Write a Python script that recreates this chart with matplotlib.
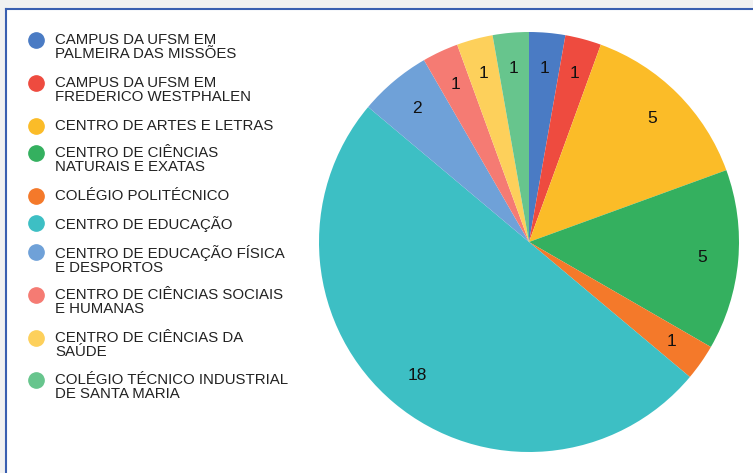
import matplotlib
matplotlib.use("Agg")
import matplotlib.pyplot as plt
from matplotlib.patches import Rectangle
from matplotlib.lines import Line2D

plt.rcParams['font.family'] = ['Liberation Sans', 'DejaVu Sans']

categories = [
    "CAMPUS DA UFSM EM\nPALMEIRA DAS MISSÕES",
    "CAMPUS DA UFSM EM\nFREDERICO WESTPHALEN",
    "CENTRO DE ARTES E LETRAS",
    "CENTRO DE CIÊNCIAS\nNATURAIS E EXATAS",
    "COLÉGIO POLITÉCNICO",
    "CENTRO DE EDUCAÇÃO",
    "CENTRO DE EDUCAÇÃO FÍSICA\nE DESPORTOS",
    "CENTRO DE CIÊNCIAS SOCIAIS\nE HUMANAS",
    "CENTRO DE CIÊNCIAS DA\nSAÚDE",
    "COLÉGIO TÉCNICO INDUSTRIAL\nDE SANTA MARIA",
]
values = [1, 1, 5, 5, 1, 18, 2, 1, 1, 1]
colors = ["#4a7bc4", "#ee4b3f", "#fbbc28", "#34b05f", "#f4792a",
          "#3dbfc4", "#6fa1d8", "#f57b73", "#fdd05b", "#67c58d"]

W, H = 753, 473
fig = plt.figure(figsize=(W / 100, H / 100), dpi=100)
fig.patch.set_facecolor("#f1f1f1")

# white panel with blue border on top/left
fig.add_artist(Rectangle((6 / W, 0), 1, 1 - 9 / H, transform=fig.transFigure,
                         facecolor="white", edgecolor="none", zorder=0))
fig.add_artist(Line2D([6 / W, 6 / W], [0, 1 - 9 / H], transform=fig.transFigure,
                      color="#3a5fb0", lw=1.5))
fig.add_artist(Line2D([6 / W, 1], [1 - 9 / H, 1 - 9 / H], transform=fig.transFigure,
                      color="#3a5fb0", lw=1.5))

cx, cy, r = 529, 242, 210
ax = fig.add_axes([(cx - r) / W, (H - cy - r) / H, 2 * r / W, 2 * r / H])
wedges, texts = ax.pie(values, colors=colors, startangle=90, counterclock=False,
                       labels=[str(v) for v in values], labeldistance=0.83,
                       wedgeprops=dict(linewidth=0),
                       textprops=dict(fontsize=12.5, color="#111111", ha="center", va="center"))
ax.set_xlim(-1, 1)
ax.set_ylim(-1, 1)
ax.set_aspect("equal")
ax.axis("off")

# legend
ys = [40, 83, 126, 153, 196, 223, 252, 295, 338, 380]
for y, lab, c in zip(ys, categories, colors):
    fig.add_artist(Line2D([36 / W], [1 - y / H], transform=fig.transFigure,
                          marker="o", markersize=11, color=c, linestyle="none"))
    fig.text(55 / W, 1 - (y - 7) / H, lab, fontsize=10.8, color="#222222",
             ha="left", va="top", linespacing=1.0)

fig.savefig("out.png", dpi=100)
